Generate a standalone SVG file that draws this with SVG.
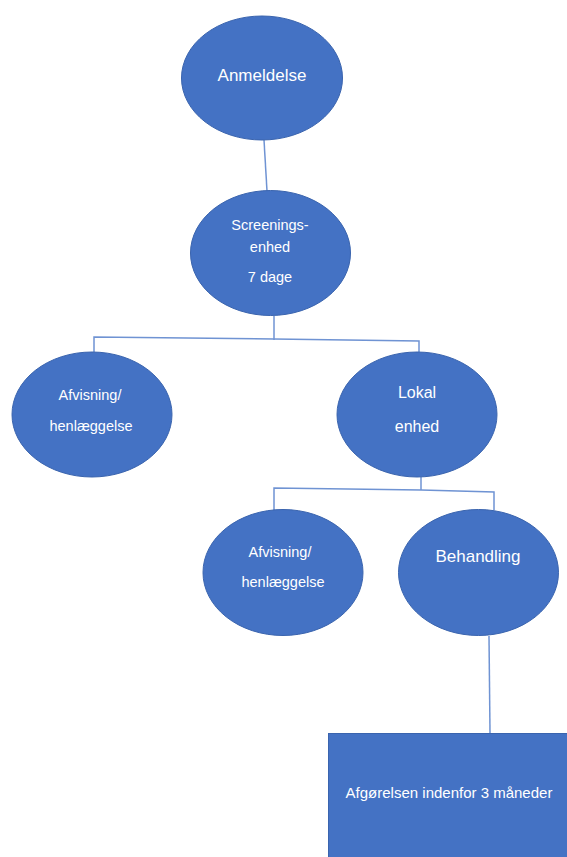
<svg xmlns="http://www.w3.org/2000/svg" width="567" height="857" viewBox="0 0 567 857">
<style>
.node{fill:#4472C4;stroke:#3A64AE;stroke-width:1}
.conn{fill:none;stroke:#6F93D3;stroke-width:1.5}
text{fill:#FFFFFF;font-family:"Liberation Sans",Arial,sans-serif;text-anchor:middle}
</style>
<rect width="567" height="857" fill="#FFFFFF"/>
<g id="connectors">
<line class="conn" x1="264" y1="140" x2="267" y2="191"/>
<polyline class="conn" points="274,316 274,340"/>
<polyline class="conn" points="94,352 94,337 274,339 419,341 419,352"/>
<polyline class="conn" points="421,477 421,490"/>
<polyline class="conn" points="274,510 274,488 421,490 494,492 494,510"/>
<line class="conn" x1="489" y1="636" x2="490" y2="733"/>
</g>
<g id="anmeldelse">
<ellipse class="node" cx="262" cy="78" rx="80.5" ry="62"/>
<text x="262" y="81" font-size="17">Anmeldelse</text>
</g>
<g id="screening">
<ellipse class="node" cx="270.5" cy="253" rx="80" ry="62.5"/>
<text x="270" y="230" font-size="14.5">Screenings-</text>
<text x="270" y="252" font-size="14.5">enhed</text>
<text x="270" y="282" font-size="14.5">7 dage</text>
</g>
<g id="afvisning1">
<ellipse class="node" cx="92" cy="414.5" rx="80" ry="62.5"/>
<text x="90" y="400" font-size="14.5">Afvisning/</text>
<text x="91" y="431" font-size="14.5">henlæggelse</text>
</g>
<g id="lokal">
<ellipse class="node" cx="417" cy="414.5" rx="80" ry="62.5"/>
<text x="417" y="398" font-size="16">Lokal</text>
<text x="417" y="432" font-size="16">enhed</text>
</g>
<g id="afvisning2">
<ellipse class="node" cx="283" cy="572.5" rx="80" ry="63"/>
<text x="280" y="557" font-size="14.5">Afvisning/</text>
<text x="283" y="587" font-size="14.5">henlæggelse</text>
</g>
<g id="behandling">
<ellipse class="node" cx="478.5" cy="572.5" rx="80" ry="63"/>
<text x="478" y="562" font-size="17">Behandling</text>
</g>
<g id="afgoerelse">
<rect class="node" x="328.5" y="733.5" width="240" height="125"/>
<text x="449" y="798" font-size="15">Afgørelsen indenfor 3 måneder</text>
</g>
</svg>
